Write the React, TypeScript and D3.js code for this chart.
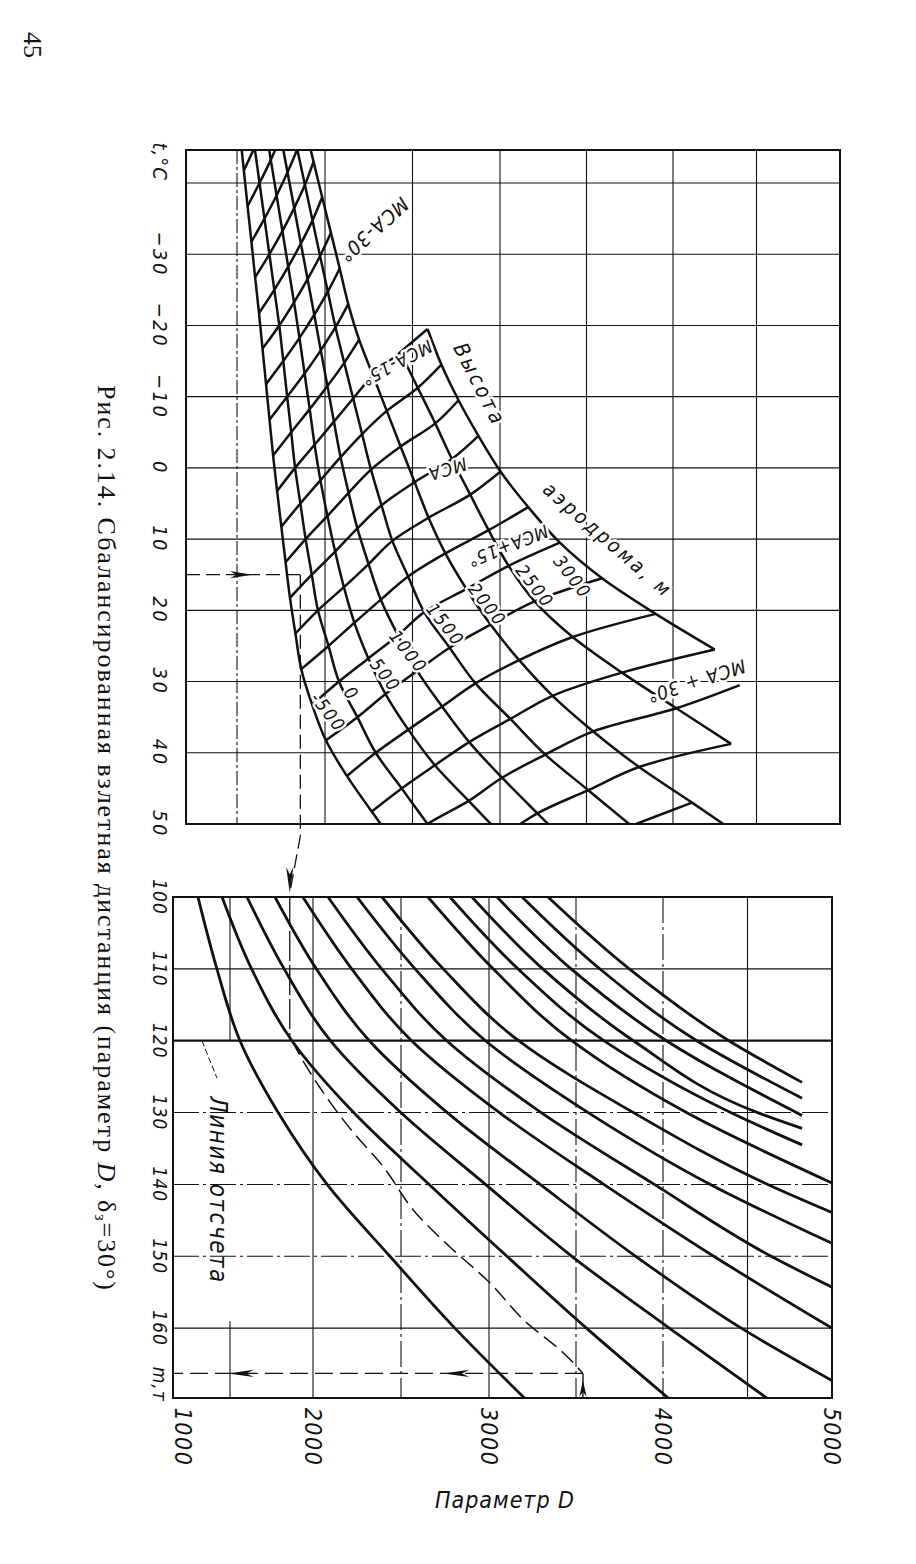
import { useEffect, useRef } from 'react'
import * as d3 from 'd3'

// оси
const tempTicks = [-30, -20, -10, 0, 10, 20, 30, 40, 50]
const tempGrid = [-40, -30, -20, -10, 0, 10, 20, 30, 40]
const paramTicks = [1000, 2000, 3000, 4000, 5000]
const paramGrid = [1500, 2000, 2500, 3000, 3500, 4000, 4500]
const massTicks = [100, 110, 120, 130, 140, 150, 160]
const massGrid = [110, 120, 130, 140, 150, 160]

// высота аэродрома, м, и температура МСА на этой высоте, °C
const altitudes = [-500, 0, 500, 1000, 1500, 2000, 2500, 3000]
const isaTemp = [18.25, 15, 11.75, 8.5, 5.25, 2, -1.25, -4.5]
const altLabels = ['-500', '0', '500', '1000', '1500', '2000', '2500', '3000']
// отклонение от МСА, °C (столбцы сетки)
const deviations = [-65, -60, -55, -50, -45, -40, -35, -30, -25, -20, -15, -10, -5, 0, 5, 10, 15, 20, 25, 30, 35, 40, 45, 50]
// до какого отклонения тянется линия высоты
const lineEndDev = [35, 35, 40, 45, 45, 50, 40, 30]

// параметр D в узлах сетки, по высотам
const dAltM500 = [1518, 1539, 1560, 1582, 1603, 1625, 1645, 1665, 1685, 1705, 1728, 1752, 1776, 1801, 1832, 1865, 1927, 2005, 2125, 2267, 2415, null, null, null]
const dAlt0 = [1572, 1600, 1628, 1656, 1684, 1712, 1740, 1763, 1785, 1808, 1830, 1860, 1890, 1925, 1960, 2020, 2080, 2185, 2290, 2438, 2586, null, null, null]
const dAlt500 = [null, 1659, 1692, 1725, 1758, 1791, 1824, 1855, 1884, 1913, 1941, 1974, 2014, 2058, 2108, 2168, 2248, 2346, 2476, 2628, 2821, 3016, null, null]
const dAlt1000 = [null, null, 1749, 1787, 1825, 1863, 1901, 1939, 1976, 2014, 2051, 2089, 2135, 2185, 2249, 2319, 2417, 2527, 2669, 2824, 3012, 3216, 3424, null]
const dAlt1500 = [null, null, null, 1842, 1886, 1929, 1972, 2016, 2060, 2110, 2161, 2212, 2263, 2323, 2385, 2475, 2567, 2712, 2860, 3060, 3262, 3510, 3759, null]
const dAlt2000 = [null, null, null, 1885, 1935, 1984, 2034, 2084, 2133, 2195, 2274, 2353, 2432, 2512, 2592, 2688, 2808, 2946, 3111, 3304, 3539, 3804, 4114, 4424]
const dAlt2500 = [null, null, null, null, null, null, null, null, null, null, 2430, 2530, 2630, 2725, 2830, 2935, 3050, 3200, 3420, 3705, 4020, 4348, null, null]
const dAlt3000 = [null, null, null, null, null, null, null, null, null, null, 2586, 2665, 2763, 2877, 3003, 3163, 3346, 3590, 3900, 4250, 4400, null, null, null]

const isaLabels = ['МСА-30°', 'МСА-15°', 'МСА', 'МСА+15°', 'МСА + 30°']

// нижняя часть: [масса, т; параметр D]
const massLine1 = [[100, 1219], [110, 1385], [120, 1560], [130, 1790], [140, 2080], [150, 2437], [160, 2806], [170, 3215]]
const massLine2 = [[100, 1430], [110, 1630], [120, 1873], [130, 2231], [140, 2660], [150, 3103], [160, 3560], [170, 4045]]
const massLine3 = [[100, 1602], [110, 1826], [120, 2099], [130, 2499], [140, 2980], [150, 3476], [160, 4037], [170, 4630]]
const massLine4 = [[100, 1771], [110, 2019], [120, 2320], [130, 2763], [140, 3294], [150, 3843], [160, 4463], [167.3, 5000]]
const massLine5 = [[100, 1939], [110, 2220], [120, 2560], [130, 3060], [140, 3660], [150, 4300], [160, 5000]]
const massLine6 = [[100, 2085], [110, 2390], [120, 2760], [130, 3300], [140, 3950], [150, 4640], [154.3, 5000]]
const massLine7 = [[100, 2250], [110, 2580], [120, 2980], [130, 3570], [140, 4280], [148.2, 5000]]
const massLine8 = [[100, 2392], [110, 2740], [120, 3170], [130, 3830], [140, 4620], [143.9, 5000]]
const massLine9 = [[100, 2653], [110, 3024], [120, 3475], [130, 4139], [139.8, 5000]]
const massLine10 = [[100, 2778], [110, 3167], [120, 3660], [130, 4400], [134.5, 4823]]
const massLine11 = [[100, 2903], [110, 3309], [120, 3830], [130, 4560], [132.2, 4823]]
const massLine12 = [[100, 3046], [110, 3472], [120, 4020], [130.4, 4823]]
const massLine13 = [[100, 3190], [110, 3637], [120, 4200], [128, 4823]]
const massLine14 = [[100, 3339], [110, 3806], [120, 4390], [125.8, 4823]]

// пример отсчёта
const exampleTemp = 15
const exampleParam = 1860
const exampleMass = 166.3
const guidePath = [[120, 1873], [123.5, 1958], [132.2, 2210], [137.5, 2398], [144, 2585], [148.7, 2778], [153.3, 2988], [159.3, 3219], [163.4, 3425], [166.3, 3540]]

const INK = '#111'
const LBL = '"Liberation Sans Narrow", "DejaVu Sans Condensed", "DejaVu Sans", sans-serif'
const SERIF = '"Liberation Serif", "DejaVu Serif", serif'

export default function App() {
  const svgRef = useRef<SVGSVGElement>(null)

  useEffect(() => {
    if (!svgRef.current) return
    const svg = d3.select(svgRef.current)
    svg.selectAll('*').remove()
    const root = svg.append('g').attr('transform', 'translate(-8,-8)')

    const meshD = [dAltM500, dAlt0, dAlt500, dAlt1000, dAlt1500, dAlt2000, dAlt2500, dAlt3000]
    const massLines = [massLine1, massLine2, massLine3, massLine4, massLine5, massLine6, massLine7,
      massLine8, massLine9, massLine10, massLine11, massLine12, massLine13, massLine14]

    // скан чуть перекошен: у верхней и нижней частей свои горизонтальные шкалы
    const xU = d3.scaleLinear().domain([1000, 1500, 2000, 3000, 4000, 5000]).range([186, 237, 325, 500, 673, 840])
    const xL = d3.scaleLinear().domain([1000, 1500, 2000, 3000, 4000, 5000]).range([173, 230, 313, 489, 663, 832])
    const yT = d3.scaleLinear().domain([-40, 50]).range([183, 824])
    const yM = d3.scaleLinear().domain([100, 170]).range([897, 1400])
    const tTop = yT.invert(150)
    const mBot = yM.invert(1398)

    const defs = root.append('defs')
    defs.append('clipPath').attr('id', 'clipU').append('rect')
      .attr('x', xU(1000)).attr('y', yT(tTop)).attr('width', xU(5000) - xU(1000)).attr('height', yT(50) - yT(tTop))
    defs.append('clipPath').attr('id', 'clipL').append('rect')
      .attr('x', xL(1000)).attr('y', yM(100)).attr('width', xL(5000) - xL(1000)).attr('height', yM(mBot) - yM(100))

    const line = (g: any, x1: number, y1: number, x2: number, y2: number, w = 1.1, dash: string | null = null) =>
      g.append('line').attr('x1', x1).attr('y1', y1).attr('x2', x2).attr('y2', y2)
        .attr('stroke', INK).attr('stroke-width', w).attr('stroke-dasharray', dash)

    const arrow = (x: number, y: number, angle: number, len = 22) =>
      root.append('path')
        .attr('d', `M0,0L${-len},-3.6L${-len * 0.72},0L${-len},3.6Z`)
        .attr('transform', `translate(${x},${y}) rotate(${angle})`)
        .attr('fill', INK)

    const text = (g: any, x: number, y: number, angle: number, s: string, size: number, family = LBL, italic = true) =>
      g.append('text')
        .attr('transform', `translate(${x},${y}) rotate(${angle})`)
        .attr('text-anchor', 'middle').attr('dominant-baseline', 'central')
        .attr('font-family', family).attr('font-size', size)
        .attr('font-style', italic ? 'italic' : 'normal')
        .attr('fill', INK).text(s)

    // ---------- верхняя часть: сетка ----------
    const grid = root.append('g')
    tempGrid.forEach(t => line(grid, xU(1000), yT(t), xU(5000), yT(t)))
    paramGrid.forEach(d => line(grid, xU(d), yT(tTop), xU(d), yT(50), 1.1, d === 1500 ? '14 3 3 3' : null))

    // сетка высот и отклонений от МСА
    const mesh = root.append('g').attr('clip-path', 'url(#clipU)')
      .attr('fill', 'none').attr('stroke', INK).attr('stroke-width', 2.5).attr('stroke-linejoin', 'round')
    const meshLine = d3.line<number[]>()
      .x(p => xU(p[0])).y(p => yT(p[1]))
      .curve(d3.curveCatmullRom.alpha(0.5))

    altitudes.forEach((_, i) => {
      const pts: number[][] = []
      deviations.forEach((dev, j) => {
        const d = meshD[i][j]
        if (d != null && dev <= lineEndDev[i]) pts.push([d, isaTemp[i] + dev])
      })
      mesh.append('path').attr('d', meshLine(pts))
    })
    deviations.forEach((dev, j) => {
      const pts: number[][] = []
      altitudes.forEach((_, i) => {
        const d = meshD[i][j]
        if (d != null) pts.push([d, isaTemp[i] + dev])
      })
      if (pts.length > 1) mesh.append('path').attr('d', meshLine(pts))
    })

    // подписи на сетке
    const halo = (sel: any) => sel.attr('paint-order', 'stroke').attr('stroke', '#fff')
      .attr('stroke-width', 5).attr('stroke-linejoin', 'round')
    const isaPos = [[2277, -33.4, 138, 20], [2409, -14.7, 152, 18], [2700, 0.2, 163, 18], [3045, 11.0, 158, 18], [4139, 30, 162, 19]]
    isaLabels.forEach((s, i) => halo(text(root, xU(isaPos[i][0]), yT(isaPos[i][1]), isaPos[i][2], s, isaPos[i][3])
      .attr('letter-spacing', 1)))
    const altPos = [[2020, 34.3], [2152, 31.7], [2346, 29.1], [2477, 25.8], [2689, 22.0], [2929, 19.2], [3203, 16.6], [3420, 15.3]]
    altLabels.forEach((s, i) => halo(text(root, xU(altPos[i][0]), yT(altPos[i][1]), 52, s, 18)
      .attr('letter-spacing', 2)))
    halo(text(root, xU(2883), yT(-11.7), 63, 'Высота', 21).attr('letter-spacing', 3))
    halo(text(root, xU(3624), yT(10.1), 41, 'аэродрома, м', 20).attr('letter-spacing', 3))

    root.append('rect').attr('x', xU(1000)).attr('y', yT(tTop))
      .attr('width', xU(5000) - xU(1000)).attr('height', yT(50) - yT(tTop))
      .attr('fill', 'none').attr('stroke', INK).attr('stroke-width', 2)

    // ---------- нижняя часть ----------
    const gridL = root.append('g')
    massGrid.forEach(m => line(gridL, xL(1000), yM(m), xL(5000), yM(m),
      m === 120 ? 2.2 : 1.1, m >= 130 && m <= 150 ? '26 4 3 4' : null))
    paramGrid.filter(d => d !== 1500).forEach(d =>
      line(gridL, xL(d), yM(100), xL(d), yM(mBot), 1.1, d === 2500 || d === 3500 || d === 4000 ? '26 4 3 4' : null))
    line(gridL, xL(1500), yM(100), xL(1500), yM(120))
    line(gridL, xL(1500), yM(159), xL(1500), yM(mBot))

    const curves = root.append('g').attr('clip-path', 'url(#clipL)')
      .attr('fill', 'none').attr('stroke', INK).attr('stroke-width', 2.8)
    const massPath = d3.line<number[]>()
      .x(p => xL(p[1])).y(p => yM(p[0]))
      .curve(d3.curveMonotoneY)
    massLines.forEach(c => curves.append('path').attr('d', massPath(c)))

    root.append('rect').attr('x', xL(1000)).attr('y', yM(100))
      .attr('width', xL(5000) - xL(1000)).attr('height', yM(mBot) - yM(100))
      .attr('fill', 'none').attr('stroke', INK).attr('stroke-width', 2)

    // линия отсчёта
    line(root, xL(1254), yM(120), xL(1386), yM(125.2), 1, '6 3')
    text(root, xL(1395), yM(140.8), 90, 'Линия отсчета', 24).attr('letter-spacing', 1.5)

    // ---------- пример ----------
    const ex = root.append('g')
    line(ex, xU(1000), yT(exampleTemp), xU(exampleParam), yT(exampleTemp), 1.3, '14 6')
    arrow(252, yT(exampleTemp), 0)
    ex.append('path')
      .attr('d', `M${xU(exampleParam)},${yT(exampleTemp)}V${yT(50) + 12}L${xL(exampleParam)},${yM(100) - 4}`)
      .attr('fill', 'none').attr('stroke', INK).attr('stroke-width', 1.3).attr('stroke-dasharray', '14 6')
    arrow(xL(exampleParam), yM(100) - 4, 90, 26)
    line(ex, xL(exampleParam), yM(100), xL(exampleParam), yM(120), 1.3, '30 4')
    ex.append('path')
      .attr('d', d3.line<number[]>().x(p => xL(p[1])).y(p => yM(p[0])).curve(d3.curveMonotoneY)(guidePath))
      .attr('fill', 'none').attr('stroke', INK).attr('stroke-width', 1.5).attr('stroke-dasharray', '16 7')
    const last = guidePath[guidePath.length - 1]
    line(ex, xL(last[1]), yM(mBot), xL(last[1]), yM(exampleMass), 1.4)
    arrow(xL(last[1]), yM(167.3), -90, 16)
    line(ex, xL(last[1]), yM(exampleMass), xL(1000), yM(exampleMass), 1.3, '18 7')
    arrow(xL(2740), yM(exampleMass), 180, 26)
    arrow(xL(1480), yM(exampleMass), 180, 26)

    // ---------- подписи осей ----------
    text(root, 160, yT(-43), 90, 't,°C', 20).attr('letter-spacing', 1)
    tempTicks.forEach(t => text(root, 160, yT(t), 90, t < 0 ? `−${-t}` : `${t}`, 20).attr('letter-spacing', 2.5))
    massTicks.forEach(m => text(root, 160, yM(m), 90, `${m}`, 19).attr('letter-spacing', 1))
    text(root, 160, yM(167.8), 90, 'm,т', 19).attr('letter-spacing', 1)
    paramTicks.forEach(d => text(root, xL(d) + (d === 1000 ? 10 : 0), 1437, 90, `${d}`, 23).attr('letter-spacing', 1.5))
    text(root, 505, 1500, 0, 'Параметр D', 23).attr('letter-spacing', 1)

    // заголовок и номер страницы
    const cap = root.append('text')
      .attr('transform', 'translate(107,385) rotate(90)')
      .attr('dominant-baseline', 'central')
      .attr('font-family', SERIF).attr('font-size', 26).attr('fill', INK)
      .attr('textLength', 905).attr('lengthAdjust', 'spacing')
    cap.append('tspan').text('Рис. 2.14. Сбалансированная взлетная дистанция (параметр ')
    cap.append('tspan').attr('font-style', 'italic').text('D')
    cap.append('tspan').text(', δ')
    cap.append('tspan').attr('font-size', 16).attr('dy', 6).text('з')
    cap.append('tspan').attr('dy', -6).text('=30°)')
    text(root, 32, 45, 90, '45', 26, SERIF, false)
  }, [])

  return (
    <svg ref={svgRef} width={900} height={1548}
      style={{ display: 'block', background: '#fff' }} />
  )
}
